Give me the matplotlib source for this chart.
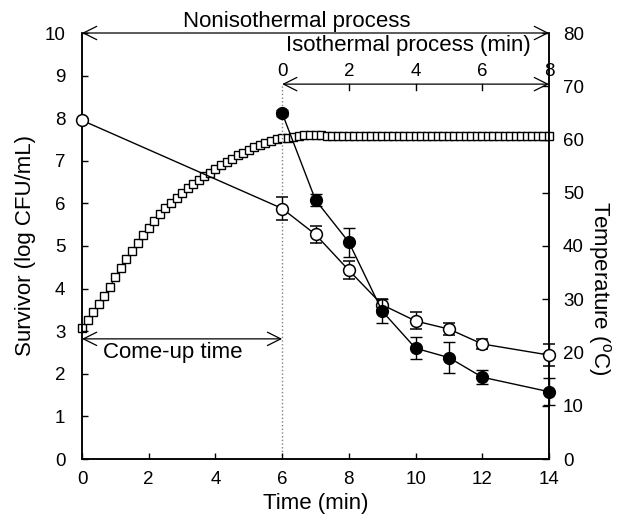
import numpy as np
import matplotlib
matplotlib.use("Agg")
import matplotlib.pyplot as plt

plt.rcParams['font.family'] = ['Liberation Sans', 'DejaVu Sans']
plt.rcParams['mathtext.fontset'] = 'custom'
plt.rcParams['mathtext.rm'] = 'Liberation Sans'

# ---- data ----
sample_time = [0, 6, 7, 8, 9, 10, 11, 12, 14]          # min (nonisothermal axis)
open_surv = [7.95, 5.88, 5.27, 4.43, 3.62, 3.24, 3.05, 2.70, 2.44]
open_err = [0.0, 0.26, 0.21, 0.21, 0.13, 0.2, 0.14, 0.12, 0.26]

filled_time = [6, 7, 8, 9, 10, 11, 12, 14]
filled_surv = [8.12, 6.08, 5.09, 3.47, 2.60, 2.38, 1.92, 1.58]
filled_err = [0.08, 0.13, 0.34, 0.28, 0.26, 0.36, 0.17, 0.32]

temp_step = 1 / 6  # min (10 s logging interval)
temps = [24.6, 26.1, 27.6, 29.1, 30.6, 32.3, 34.2, 35.9, 37.5, 39.1,
         40.6, 42.0, 43.4, 44.7, 46.0, 47.1, 48.1, 49.1, 50.0, 50.8,
         51.6, 52.4, 53.1, 53.8, 54.5, 55.2, 55.8, 56.4, 57.0, 57.5,
         58.0, 58.5, 59.0, 59.4, 59.8, 60.1, 60.2, 60.3, 60.5, 60.7,
         60.8, 60.8, 60.8, 60.8, 60.7, 60.7, 60.7, 60.7, 60.7, 60.7,
         60.7, 60.7, 60.7, 60.7, 60.7, 60.7, 60.6, 60.7, 60.7, 60.7,
         60.7, 60.7, 60.7, 60.7, 60.7, 60.7, 60.7, 60.7, 60.7, 60.7,
         60.7, 60.7, 60.7, 60.7, 60.7, 60.7, 60.7, 60.7, 60.7, 60.7,
         60.7, 60.7, 60.7, 60.7, 60.7]
temp_time = np.arange(len(temps)) * temp_step

come_up = 6
iso_ticks = [0, 2, 4, 6, 8]
x_ticks = [0, 2, 4, 6, 8, 10, 12, 14]
y_ticks = list(range(0, 11))
t_ticks = list(range(0, 81, 10))

# ---- figure ----
fig = plt.figure(figsize=(6.2, 5.25), dpi=100)
ax = fig.add_axes([82/620, 66/525, (549-82)/620, (459-33)/525])
ax2 = ax.twinx()

ax.set_xlim(0, 14)
ax.set_ylim(0, 10)
ax2.set_ylim(0, 80)

ax.set_zorder(ax2.get_zorder() + 1)
ax.patch.set_visible(False)

for a in (ax, ax2):
    a.spines['top'].set_visible(False)
    for s in ('left', 'right', 'bottom'):
        a.spines[s].set_linewidth(1.1)

LAB = 16
TCK = 13.5

ax.set_xticks(x_ticks)
ax.set_yticks(y_ticks)
ax2.set_yticks(t_ticks)
ax.tick_params(direction='in', length=4, width=1, labelsize=TCK, pad=12)
ax2.tick_params(direction='in', length=5, width=1, labelsize=TCK, pad=10)
ax.tick_params(axis='x', pad=9)

ax.set_xlabel('Time (min)', fontsize=LAB, labelpad=3)
ax.set_ylabel('Survivor (log CFU/mL)', fontsize=LAB, labelpad=6)
ax2.set_ylabel(r'Temperature ($^{\rm o}$C)', fontsize=LAB, rotation=270, labelpad=20)
ax2.yaxis.set_label_coords(1.138, 0.40)

# temperature profile
ax2.plot(temp_time, temps, ls='-', color='black', lw=0.8, marker='s', ms=6,
         mfc='white', mec='black', mew=1.0, zorder=2, clip_on=False)

# survivors
ax.errorbar(sample_time, open_surv, yerr=open_err, fmt='-o', color='black', lw=1,
            ms=8.5, mfc='white', mec='black', mew=1.1, capsize=4.5, capthick=1.3,
            elinewidth=1, zorder=4, clip_on=False)
ax.errorbar(filled_time, filled_surv, yerr=filled_err, fmt='-o', color='black', lw=1,
            ms=8.5, mfc='black', mec='black', mew=1, capsize=4.5, capthick=1.3,
            elinewidth=1, zorder=5, clip_on=False)

# vertical dotted line at end of come-up
iso_y = 8.8
ax.plot([come_up, come_up], [0, iso_y], ls=':', color='gray', lw=1, zorder=1)

arrow_kw = dict(arrowstyle='<->', color='black', lw=0.9, mutation_scale=24,
                shrinkA=0, shrinkB=0)

# nonisothermal arrow
ax.annotate('', xy=(0, 10), xytext=(14, 10), arrowprops=arrow_kw, annotation_clip=False)
ax.text(6.45, 10.14, 'Nonisothermal process', ha='center', va='baseline', fontsize=LAB)

# isothermal arrow with its own axis
ax.annotate('', xy=(come_up, iso_y), xytext=(14, iso_y), arrowprops=arrow_kw,
            annotation_clip=False)
for t in iso_ticks:
    xp = come_up + t
    if 0 < t < iso_ticks[-1]:
        ax.plot([xp, xp], [iso_y, iso_y - 0.13], color='black', lw=1)
    ax.text(xp, iso_y + 0.1, str(t), ha='center', va='bottom', fontsize=TCK)
ax.text(9.78, 9.45, 'Isothermal process (min)', ha='center', va='bottom', fontsize=LAB)

# come-up time arrow
ax.annotate('', xy=(0, 2.82), xytext=(come_up, 2.82), arrowprops=arrow_kw,
            annotation_clip=False)
ax.text(0.62, 2.5, 'Come-up time', ha='left', va='center', fontsize=LAB)

fig.savefig('out.png', dpi=100)
